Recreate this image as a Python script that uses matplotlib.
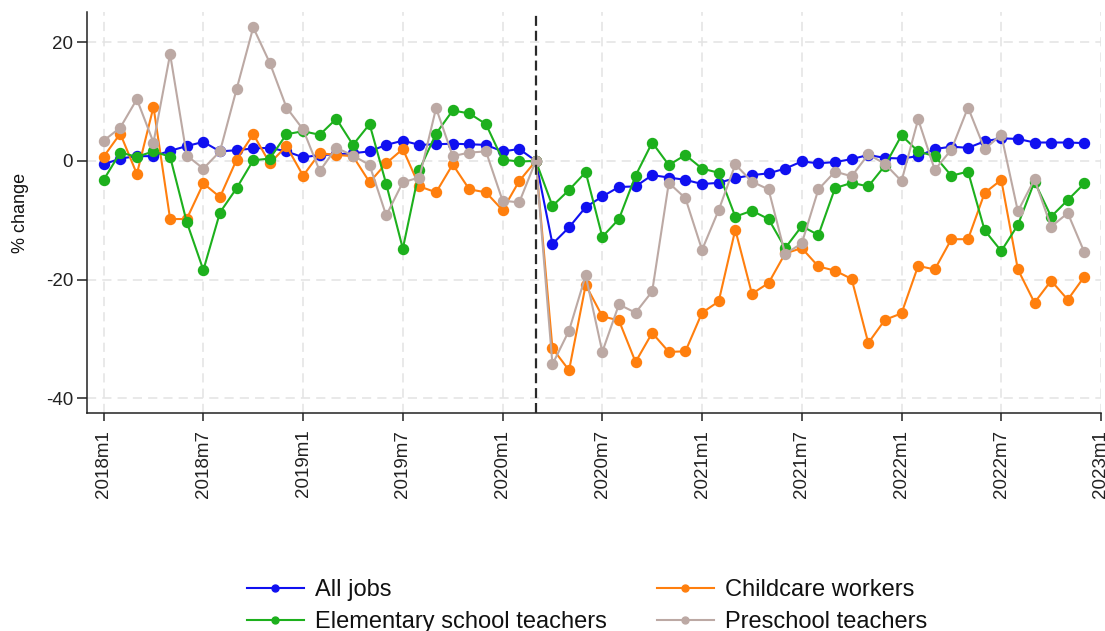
import numpy as np
import matplotlib.pyplot as plt
from matplotlib.lines import Line2D

plt.rcParams['font.family'] = ['Liberation Sans', 'DejaVu Sans']

# --- data (monthly % change, 2018m1 .. 2022m12) ---
months = [f"{y}m{m}" for y in range(2018, 2023) for m in range(1, 13)]
tick_labels = ["2018m1", "2018m7", "2019m1", "2019m7", "2020m1", "2020m7",
               "2021m1", "2021m7", "2022m1", "2022m7", "2023m1"]
covid_month = "2020m3"

all_jobs = [-0.6, 0.4, 0.8, 0.8, 1.7, 2.5, 3.2, 1.6, 1.8, 2.1, 2.2, 1.6,
            0.6, 1.0, 1.1, 1.3, 1.6, 2.7, 3.4, 2.7, 2.8, 2.9, 2.8, 2.7,
            1.6, 2.0, 0.0, -14.0, -11.2, -7.8, -6.0, -4.4, -4.3, -2.4, -2.8, -3.2,
            -3.9, -3.7, -2.9, -2.4, -2.1, -1.3, -0.1, -0.4, -0.2, 0.3, 1.0, 0.5,
            0.4, 0.8, 2.0, 2.4, 2.2, 3.3, 3.8, 3.7, 3.1, 3.1, 3.1, 3.0]

childcare = [0.7, 4.6, -2.2, 9.1, -9.8, -9.8, -3.8, -6.1, 0.2, 4.5, -0.4, 2.5,
             -2.5, 1.3, 1.0, 0.8, -3.6, -0.4, 2.0, -4.3, -5.3, -0.6, -4.8, -5.3,
             -8.3, -3.4, 0.0, -31.6, -35.3, -20.9, -26.2, -26.9, -33.9, -29.0, -32.2, -32.1,
             -25.6, -23.7, -11.6, -22.4, -20.6, -15.6, -14.7, -17.8, -18.5, -19.9, -30.7, -26.8,
             -25.7, -17.7, -18.3, -13.2, -13.2, -5.4, -3.2, -18.3, -23.9, -20.2, -23.4, -19.5]

elementary = [-3.2, 1.4, 0.7, 1.6, 0.7, -10.3, -18.4, -8.7, -4.6, 0.1, 0.4, 4.5,
              5.0, 4.4, 7.1, 2.7, 6.2, -3.9, -14.8, -1.5, 4.6, 8.5, 8.0, 6.2,
              0.2, -0.1, 0.0, -7.6, -4.9, -1.9, -12.8, -9.8, -2.5, 3.1, -0.7, 1.0,
              -1.3, -2.0, -9.4, -8.4, -9.8, -14.7, -11.0, -12.5, -4.6, -3.7, -4.3, -0.8,
              4.3, 1.6, 0.8, -2.5, -1.8, -11.7, -15.2, -10.8, -3.5, -9.4, -6.6, -3.8]

preschool = [3.4, 5.6, 10.4, 3.1, 18.0, 0.9, -1.3, 1.6, 12.1, 22.5, 16.5, 9.0,
             5.3, -1.7, 2.2, 0.9, -0.7, -9.2, -3.6, -2.8, 8.9, 0.8, 1.4, 1.6,
             -6.7, -7.0, 0.0, -34.3, -28.6, -19.3, -32.2, -24.2, -25.6, -22.0, -3.7, -6.3,
             -15.0, -8.3, -0.6, -3.5, -4.8, -15.7, -13.9, -4.8, -1.8, -2.6, 1.1, -0.5,
             -3.4, 7.0, -1.5, 1.9, 9.0, 2.0, 4.4, -8.5, -3.1, -11.1, -8.8, -15.4]

series = [
    ("All jobs", all_jobs, "#1010F0"),
    ("Childcare workers", childcare, "#FF7F0E"),
    ("Elementary school teachers", elementary, "#1DB01D"),
    ("Preschool teachers", preschool, "#BCA9A4"),
]

# month index for x axis
x = np.arange(len(months))
tick_pos = np.arange(0, len(tick_labels) * 6, 6)
covid_x = months.index(covid_month)

fig = plt.figure(figsize=(11.05, 6.31), dpi=100)
ax = fig.add_axes([87 / 1105, 1 - 413 / 631, (1101 - 87) / 1105, (413 - 12) / 631])

for name, vals, col in series:
    ax.plot(x, vals, color=col, lw=1.5, marker='o', ms=7.2, mec=col, mfc=col, zorder=3)

ax.axvline(covid_x, color='#2a2a2a', lw=1.6, ls=(0, (4.5, 2.2)), zorder=4)

ax.set_xlim(-1, 60)
ax.set_ylim(-42.5, 25.1)
ax.set_xticks(tick_pos)
ax.set_xticklabels(tick_labels, rotation=90)
ax.set_yticks([20, 0, -20, -40])
ax.set_yticklabels(["20", "0", "-20", "-40"])
ax.tick_params(axis='both', labelsize=13.5, colors='#222222', width=1.1)
ax.tick_params(axis='x', length=6, pad=6)
ax.tick_params(axis='y', length=7, pad=3)
ax.set_ylabel("% change", fontsize=13, labelpad=12, color='#111111')

ax.grid(True, color='#e3e3e3', lw=1.1, ls=(0, (6, 4)), zorder=0)
ax.set_axisbelow(True)
for s in ['top', 'right']:
    ax.spines[s].set_visible(False)
for s in ['left', 'bottom']:
    ax.spines[s].set_linewidth(1.1)
    ax.spines[s].set_color('#222222')

# legend: two columns placed separately
handles = [Line2D([], [], color=c, lw=1.5, marker='o', ms=5) for _, _, c in series]
names = [n for n, _, _ in series]
leg_kw = dict(frameon=False, fontsize=17, handlelength=2.4, handletextpad=0.5,
              borderpad=0, borderaxespad=0, labelspacing=0.42, loc='upper left')
leg1 = fig.legend([handles[0], handles[2]], [names[0], names[2]],
                  bbox_to_anchor=(247 / 1105, 1 - 579 / 631), **leg_kw)
leg2 = fig.legend([handles[1], handles[3]], [names[1], names[3]],
                  bbox_to_anchor=(657 / 1105, 1 - 579 / 631), **leg_kw)
for lg in (leg1, leg2):
    for t in lg.get_texts():
        t.set_color('#111111')

fig.savefig("out.png", dpi=100)
